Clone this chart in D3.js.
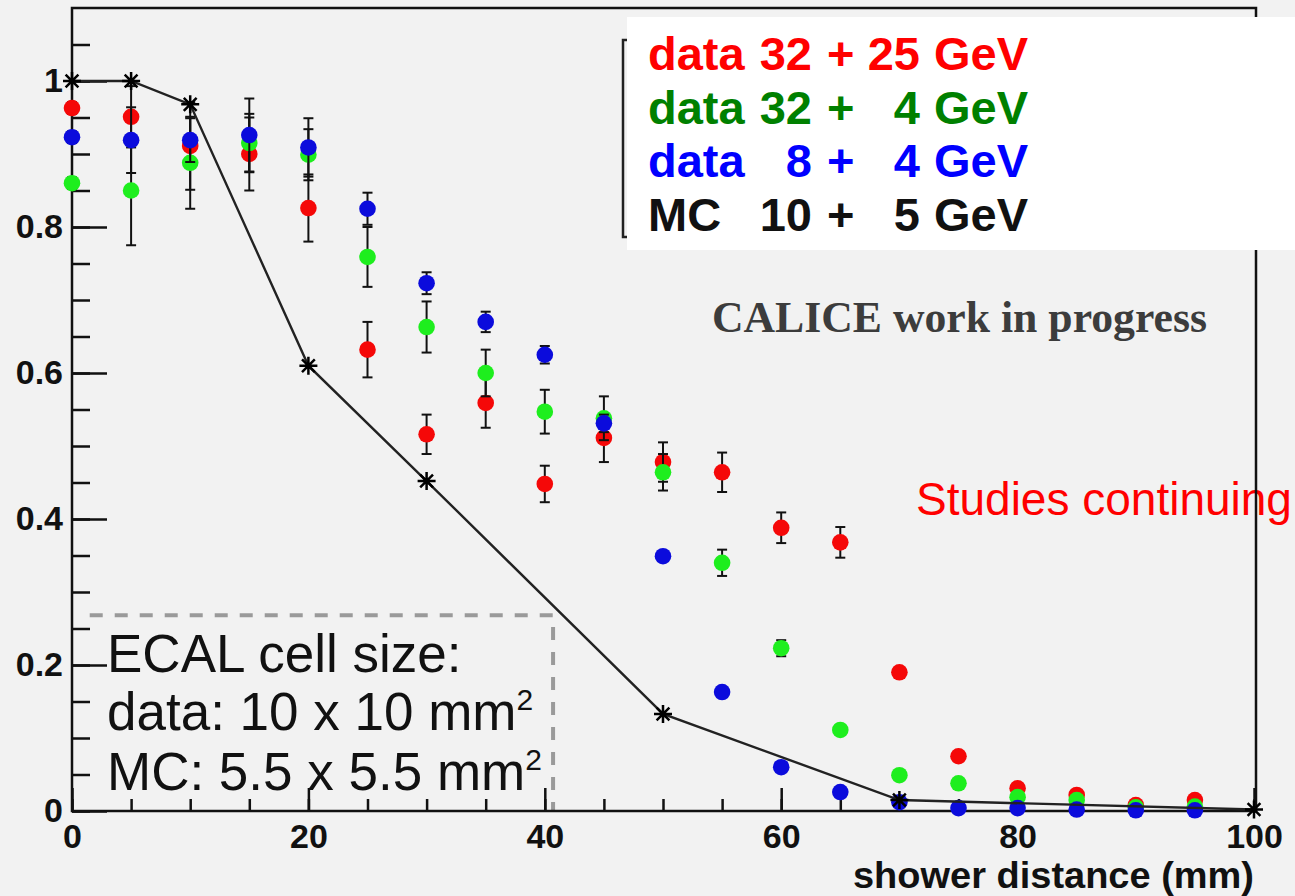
<!DOCTYPE html>
<html>
<head>
<meta charset="utf-8">
<script src="https://cdn.jsdelivr.net/npm/d3@7"></script>
<style>
  body { margin: 0; background: #f2f2f2; }
  svg { display: block; }
</style>
</head>
<body>
<svg id="chart"></svg>
<script>
const W = 1295, H = 896;

// shower distance (mm) for the data points
const dist = [0, 5, 10, 15, 20, 25, 30, 35, 40, 45, 50, 55, 60, 65, 70, 75, 80, 85, 90, 95];

// data 32 + 25 GeV
const red = [0.963, 0.951, 0.911, 0.900, 0.826, 0.632, 0.516, 0.559, 0.448, 0.511, 0.478, 0.464, 0.388, 0.368, 0.190, 0.075, 0.031, 0.022, 0.008, 0.015];
const redErr = [0.008, 0.042, 0.06, 0.05, 0.046, 0.038, 0.027, 0.034, 0.025, 0.033, 0.027, 0.027, 0.021, 0.021, 0.005, 0.004, 0.004, 0.004, 0.004, 0.004];

// data 32 + 4 GeV
const green = [0.860, 0.850, 0.888, 0.915, 0.899, 0.759, 0.663, 0.600, 0.547, 0.538, 0.464, 0.340, 0.223, 0.111, 0.049, 0.038, 0.019, 0.015, 0.005, 0.006];
const greenErr = [0.008, 0.075, 0.063, 0.04, 0.035, 0.041, 0.035, 0.032, 0.03, 0.03, 0.025, 0.018, 0.011, 0.006, 0.004, 0.004, 0.004, 0.004, 0.004, 0.004];

// data 8 + 4 GeV
const blue = [0.923, 0.919, 0.919, 0.926, 0.909, 0.825, 0.723, 0.670, 0.625, 0.531, 0.349, 0.163, 0.060, 0.026, 0.012, 0.004, 0.004, 0.002, 0.001, 0.001];
const blueErr = [0.008, 0.045, 0.03, 0.05, 0.04, 0.022, 0.015, 0.014, 0.012, 0.012, 0.005, 0.004, 0.004, 0.004, 0.004, 0.004, 0.004, 0.004, 0.004, 0.004];

// MC 10 + 5 GeV
const mcDist = [0, 5, 10, 20, 30, 50, 70, 100];
const mcVal = [1.0, 1.0, 0.968, 0.61, 0.452, 0.133, 0.015, 0.002];

const xMajor = [0, 20, 40, 60, 80, 100];
const xMinor = d3.range(0, 101, 5);
const yMajor = [0, 0.2, 0.4, 0.6, 0.8, 1];
const yMinor = d3.range(0, 21.5).map(d => d * 0.05);

const legendRows = [
  {c1: 'data', c2: '32', c4: '25', color: '#ff0000'},
  {c1: 'data', c2: '32', c4: '4', color: '#008000'},
  {c1: 'data', c2: '8', c4: '4', color: '#0000ff'},
  {c1: 'MC', c2: '10', c4: '5', color: '#111111'}
];

const x = d3.scaleLinear().domain([0, 100]).range([72, 1254]);
const y = d3.scaleLinear().domain([0, 1.1]).range([811, 8]);

const svg = d3.select('#chart').attr('width', W).attr('height', H);

svg.append('rect').attr('width', W).attr('height', H).attr('fill', '#f2f2f2');

// annotation that sits under the frame
svg.append('text')
  .attr('x', 916).attr('y', 515)
  .attr('font-family', 'Liberation Sans, Arial, sans-serif')
  .attr('font-size', 46)
  .attr('fill', '#ff0000')
  .text('Studies continuing');

// ECAL cell size box
svg.append('path')
  .attr('d', 'M' + x(1.5) + ',' + y(0.268) + 'H' + x(40.7) + 'V' + y(0))
  .attr('fill', 'none')
  .attr('stroke', '#9a9a9a')
  .attr('stroke-width', 4)
  .attr('stroke-dasharray', '13,12');

const ecal = svg.append('g')
  .attr('font-family', 'Liberation Sans, Arial, sans-serif')
  .attr('font-size', 53)
  .attr('fill', '#111');
ecal.append('text').attr('x', 107).attr('y', 672).text('ECAL cell size:');
let t2 = ecal.append('text').attr('x', 107).attr('y', 730);
t2.append('tspan').text('data: 10 x 10 mm');
t2.append('tspan').attr('font-size', 30).attr('dy', -20).text('2');
let t3 = ecal.append('text').attr('x', 107).attr('y', 790);
t3.append('tspan').text('MC: 5.5 x 5.5 mm');
t3.append('tspan').attr('font-size', 30).attr('dy', -20).text('2');

// frame
svg.append('rect')
  .attr('x', 72).attr('y', 8)
  .attr('width', 1256 - 72).attr('height', 811 - 8)
  .attr('fill', 'none')
  .attr('stroke', '#111')
  .attr('stroke-width', 2.5);

// axes, ticks pointing inward
const axisFont = 'Liberation Sans, Arial, sans-serif';

svg.append('g')
  .attr('transform', 'translate(0,' + y(0) + ')')
  .call(d3.axisBottom(x).tickValues(xMinor).tickSize(-12).tickFormat(''))
  .call(g => g.select('.domain').remove())
  .selectAll('line').attr('stroke', '#111').attr('stroke-width', 2.5);

const gx = svg.append('g')
  .attr('transform', 'translate(0,' + y(0) + ')')
  .call(d3.axisBottom(x).tickValues(xMajor).tickSize(-23).tickPadding(13).tickFormat(d3.format('d')));
gx.select('.domain').remove();
gx.selectAll('line').attr('stroke', '#111').attr('stroke-width', 2.5);
gx.selectAll('text').attr('font-family', axisFont).attr('font-weight', 'bold')
  .attr('font-size', 34).attr('fill', '#111');

svg.append('g')
  .attr('transform', 'translate(' + x(0) + ',0)')
  .call(d3.axisLeft(y).tickValues(yMinor).tickSize(-18).tickFormat(''))
  .call(g => g.select('.domain').remove())
  .selectAll('line').attr('stroke', '#111').attr('stroke-width', 2.5);

const gy = svg.append('g')
  .attr('transform', 'translate(' + x(0) + ',0)')
  .call(d3.axisLeft(y).tickValues(yMajor).tickSize(-35).tickPadding(9).tickFormat(d => d3.format('')(+d.toFixed(1))));
gy.select('.domain').remove();
gy.selectAll('line').attr('stroke', '#111').attr('stroke-width', 2.5);
gy.selectAll('text').attr('font-family', axisFont).attr('font-weight', 'bold')
  .attr('font-size', 34).attr('fill', '#111');

svg.append('text')
  .attr('x', 1254).attr('y', 888)
  .attr('text-anchor', 'end')
  .attr('font-family', axisFont).attr('font-weight', 'bold')
  .attr('font-size', 36).attr('fill', '#111')
  .attr('textLength', 401).attr('lengthAdjust', 'spacingAndGlyphs')
  .text('shower distance (mm)');

svg.append('text')
  .attr('x', 712).attr('y', 332)
  .attr('font-family', 'Liberation Serif, Times New Roman, serif')
  .attr('font-weight', 'bold')
  .attr('font-size', 44).attr('fill', '#3c3c3c')
  .attr('textLength', 495).attr('lengthAdjust', 'spacingAndGlyphs')
  .text('CALICE work in progress');

// data series with error bars
const series = [
  {v: red, e: redErr, color: '#f50808'},
  {v: green, e: greenErr, color: '#1eee1e'},
  {v: blue, e: blueErr, color: '#0b0bdc'}
];

series.forEach(s => {
  const pts = dist.map((d, i) => ({d: d, v: s.v[i], e: s.e[i]}));
  const g = svg.append('g');
  const bars = g.selectAll('g.err').data(pts).enter().append('g')
    .attr('stroke', '#111').attr('stroke-width', 2);
  bars.append('line')
    .attr('x1', p => x(p.d)).attr('x2', p => x(p.d))
    .attr('y1', p => y(p.v - p.e)).attr('y2', p => y(p.v + p.e));
  bars.append('line')
    .attr('x1', p => x(p.d) - 5).attr('x2', p => x(p.d) + 5)
    .attr('y1', p => y(p.v - p.e)).attr('y2', p => y(p.v - p.e));
  bars.append('line')
    .attr('x1', p => x(p.d) - 5).attr('x2', p => x(p.d) + 5)
    .attr('y1', p => y(p.v + p.e)).attr('y2', p => y(p.v + p.e));
  g.selectAll('circle').data(pts).enter().append('circle')
    .attr('cx', p => x(p.d)).attr('cy', p => y(p.v))
    .attr('r', 8.3).attr('fill', s.color);
});

// MC line with star markers
const mc = mcDist.map((d, i) => ({d: d, v: mcVal[i]}));
svg.append('path')
  .attr('d', d3.line().x(p => x(p.d)).y(p => y(p.v))(mc))
  .attr('fill', 'none').attr('stroke', '#222').attr('stroke-width', 2.4);

const star = 'M-9,0H9M0,-9V9M-6.4,-6.4L6.4,6.4M-6.4,6.4L6.4,-6.4';
svg.selectAll('path.star').data(mc).enter().append('path')
  .attr('class', 'star')
  .attr('transform', p => 'translate(' + x(p.d) + ',' + y(p.v) + ')')
  .attr('d', star)
  .attr('stroke', '#000').attr('stroke-width', 2.5).attr('fill', 'none');

// legend
svg.append('path')
  .attr('d', 'M628,40H623V237H628')
  .attr('fill', 'none').attr('stroke', '#222').attr('stroke-width', 2.5);
svg.append('rect')
  .attr('x', 627).attr('y', 17).attr('width', W - 627).attr('height', 233)
  .attr('fill', '#ffffff');

const leg = svg.append('g')
  .attr('font-family', 'Liberation Sans, Arial, sans-serif')
  .attr('font-weight', 'bold')
  .attr('font-size', 47);
legendRows.forEach((r, i) => {
  const yy = 70 + i * 53.7;
  const row = leg.append('g').attr('fill', r.color);
  row.append('text').attr('x', 648).attr('y', yy).text(r.c1);
  row.append('text').attr('x', 812).attr('y', yy).attr('text-anchor', 'end').text(r.c2);
  row.append('text').attr('x', 827).attr('y', yy).text('+');
  row.append('text').attr('x', 920).attr('y', yy).attr('text-anchor', 'end').text(r.c4);
  row.append('text').attr('x', 934).attr('y', yy).text('GeV');
});
</script>
</body>
</html>
